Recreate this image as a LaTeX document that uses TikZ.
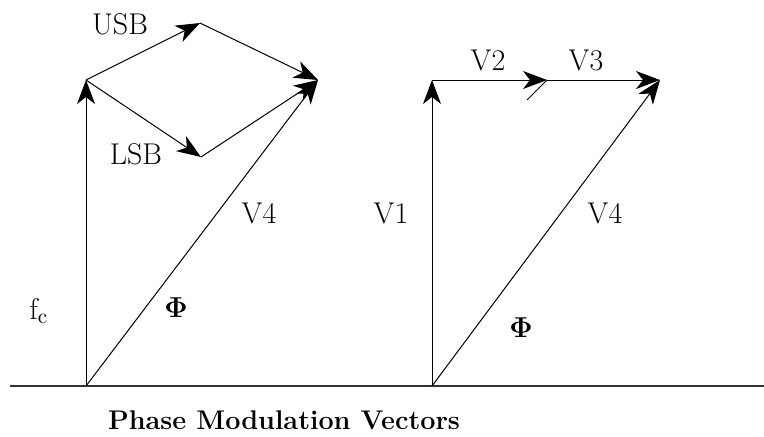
\documentclass[tikz,border=0pt]{standalone}
\usepackage{amsmath,amssymb}
\usepackage{bm}
\usetikzlibrary{arrows.meta,positioning,calc}

\begin{document}
\begin{tikzpicture}[x=0.5pt,y=-0.5pt,
    vec/.style={-{Stealth[length=12pt,width=9pt,inset=3.5pt]}, line width=0.5pt},
    lbl/.style={font=\fontsize{15}{17}\selectfont},
    ttl/.style={font=\fontsize{13.5}{16}\selectfont\bfseries}]
    \useasboundingbox (0,0) rectangle (764,436);

    % Ground line
    \coordinate (g0) at (10,386);
    \coordinate (g1) at (764,386);
    \draw[line width=0.6pt, black!80] (g0) -- (g1);

    % Left: carrier and side bands
    \coordinate (o1) at (86,386);
    \coordinate (c1) at (86,80);
    \coordinate (usb) at (200,23);
    \coordinate (lsb) at (201,157);
    \coordinate (r1) at (318,80);
    \draw[vec] (o1) -- (c1);
    \draw[vec] (c1) -- (usb);
    \draw[vec] (usb) -- (r1);
    \draw[vec] (c1) -- (lsb);
    \draw[vec] (lsb) -- (r1);
    \draw[vec] (o1) -- (r1);

    \node[lbl] (usbl) at (120,24) {USB};
    \node[lbl] (lsbl) at (136,154) {LSB};
    \node[lbl] (v4a) at (259,213) {V4};
    \node[lbl] (phia) at (176,308) {$\boldsymbol{\Phi}$};
    \node[lbl] (fc) at (39,311) {f$_{\text{c}}$};

    % Right: vector sum
    \coordinate (o2) at (432,386);
    \coordinate (c2) at (432,80);
    \coordinate (m2) at (547,80);
    \coordinate (r2) at (660,80);
    \draw[vec] (o2) -- (c2);
    \draw[vec] (c2) -- (m2);
    \draw[vec] (m2) -- (r2);
    \draw[vec] (o2) -- (r2);
    \draw[line width=0.5pt] (m2) -- ++(-20,20);

    \node[lbl] (v2) at (488,60) {V2};
    \node[lbl] (v3) at (586,60) {V3};
    \node[lbl] (v1) at (391,213) {V1};
    \node[lbl] (v4b) at (605,213) {V4};
    \node[lbl] (phib) at (521,328) {$\boldsymbol{\Phi}$};

    \node[ttl] (title) at (284,420) {Phase Modulation Vectors};
\end{tikzpicture}
\end{document}
